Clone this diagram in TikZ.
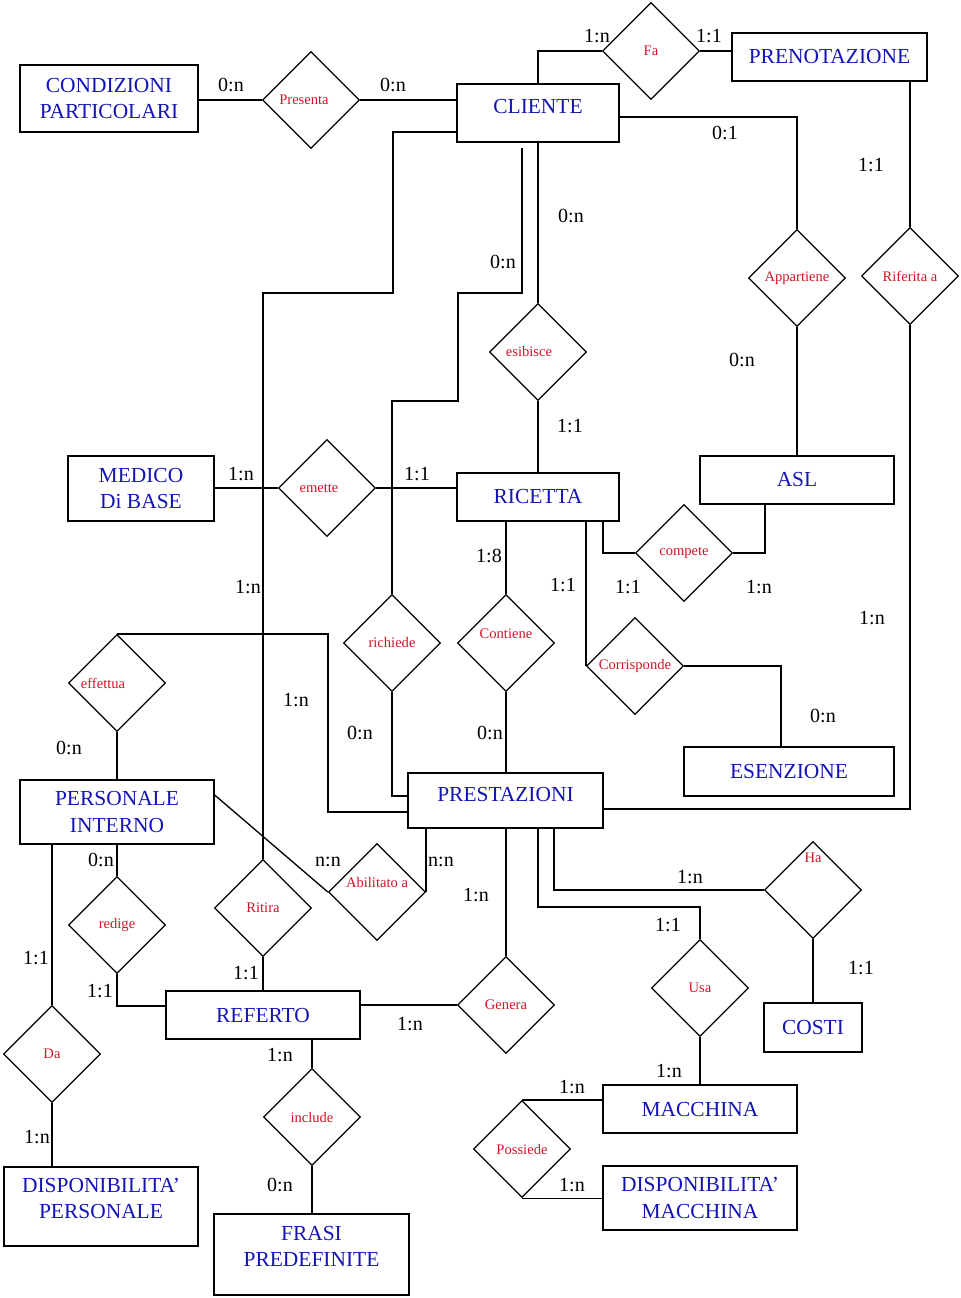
\documentclass[tikz,border=0pt]{standalone}
\usepackage{fontspec}
\setmainfont{Liberation Serif}
\usepackage{xcolor}
\usetikzlibrary{shapes.geometric}

\definecolor{entblue}{RGB}{20,20,180}
\definecolor{relred}{RGB}{210,20,40}

\tikzset{
    entity/.style={draw, rectangle, inner sep=0pt, align=center, text=entblue,
        font=\fontsize{12.2}{15}\selectfont},
    relation/.style={draw, diamond, aspect=1, minimum width=1.94cm, minimum height=1.94cm,
        inner sep=0pt, text=relred, font=\fontsize{8.3}{10}\selectfont},
    card/.style={inner sep=0pt, font=\fontsize{11.4}{13}\selectfont},
}

\begin{document}
\begin{tikzpicture}[x=0.02cm, y=-0.02cm, line width=0.75pt]
    \useasboundingbox (0,0) rectangle (960,1298);

    % Entities
    \node[entity, minimum width=3.56cm, minimum height=1.34cm] (cond) at (109,98.5) {CONDIZIONI\\PARTICOLARI};
    \node[entity, minimum width=3.24cm, minimum height=1.16cm, text depth=0.28cm] (cliente) at (538,113) {CLIENTE};
    \node[entity, minimum width=3.9cm, minimum height=0.96cm] (preno) at (829.5,57) {PRENOTAZIONE};
    \node[entity, minimum width=2.92cm, minimum height=1.3cm] (medico) at (141,488.5) {MEDICO\\Di BASE};
    \node[entity, minimum width=3.24cm, minimum height=0.96cm] (ricetta) at (538,497) {RICETTA};
    \node[entity, minimum width=3.88cm, minimum height=0.96cm] (asl) at (797,480) {ASL};
    \node[entity, minimum width=4.2cm, minimum height=0.98cm] (esenz) at (789,771.5) {ESENZIONE};
    \node[entity, minimum width=3.9cm, minimum height=1.1cm, text depth=0.24cm] (prest) at (505.5,800.5) {PRESTAZIONI};
    \node[entity, minimum width=3.88cm, minimum height=1.28cm] (pers) at (117,812) {PERSONALE\\INTERNO};
    \node[entity, minimum width=3.88cm, minimum height=0.96cm] (referto) at (263,1015) {REFERTO};
    \node[entity, minimum width=1.96cm, minimum height=0.98cm] (costi) at (813,1027.5) {COSTI};
    \node[entity, minimum width=3.88cm, minimum height=0.96cm] (macch) at (700,1109) {MACCHINA};
    \node[entity, minimum width=3.88cm, minimum height=1.28cm] (dispm) at (700,1198) {DISPONIBILITA’\\MACCHINA};
    \node[entity, minimum width=3.88cm, minimum height=1.58cm, text depth=0.32cm] (dispp) at (101,1206.5) {DISPONIBILITA’\\PERSONALE};
    \node[entity, minimum width=3.9cm, minimum height=1.62cm, text depth=0.32cm] (frasi) at (311.5,1254.5) {FRASI\\PREDEFINITE};

    % Relations
    \node[relation] (presenta) at (311,100) {Presenta\kern0.28cm};
    \node[relation] (fa) at (651,51) {Fa};
    \node[relation] (appart) at (797,278) {Appartiene};
    \node[relation] (rifer) at (910,276) {Riferita a};
    \node[relation] (esib) at (538,352) {esibisce\kern0.36cm};
    \node[relation] (emette) at (327,488) {emette\kern0.32cm};
    \node[relation] (compete) at (684,553) {compete};
    \node[relation] (richiede) at (392,643) {richiede};
    \node[relation, text depth=0.36cm] (contiene) at (506,643) {Contiene};
    \node[relation] (corrisp) at (635,666) {Corrisponde};
    \node[relation] (effettua) at (117,683) {effettua\kern0.56cm};
    \node[relation, text depth=0.4cm] (abil) at (377,892) {Abilitato a};
    \node[relation] (ritira) at (263,908) {Ritira};
    \node[relation] (redige) at (117,925) {redige};
    \node[relation, text depth=1.28cm] (ha) at (813,890) {Ha};
    \node[relation] (usa) at (700,988) {Usa};
    \node[relation] (genera) at (506,1005) {Genera};
    \node[relation] (da) at (52,1054) {Da};
    \node[relation] (include) at (312,1117) {include};
    \node[relation] (possiede) at (522,1149) {Possiede};

    % Links around CLIENTE
    \draw (presenta.west -| cond.east) -- (presenta.west);
    \draw (presenta.east) -- (presenta.east -| cliente.west);
    \draw (cliente.north) |- (fa.west);
    \draw (fa.east) -- (fa.east -| preno.west);
    \draw (cliente.east |- 0,117) -| (appart.north);
    \draw (appart.south) -- (asl.north);
    \draw (rifer.north |- preno.south) -- (rifer.north);
    \draw (rifer.south) |- (prest.east |- 0,809);
    \draw (cliente.south) -- (esib.north);
    \draw (esib.south) -- (ricetta.north);
    \draw (cliente.west |- 0,132) -| (393,293) -| (ritira.north);
    \draw ([shift={(-16,5)}]cliente.south) |- (458,293) |- (392,401) -- (richiede.north);
    \draw (richiede.south) |- (prest.west |- 0,796);

    % Links around RICETTA
    \draw (medico.east |- emette.west) -- (emette.west);
    \draw (emette.east) -- (emette.east -| ricetta.west);
    \draw (contiene.north |- ricetta.south) -- (contiene.north);
    \draw (contiene.south) -- (contiene.south |- prest.north);
    \draw (corrisp.west |- ricetta.south) -- (corrisp.west);
    \draw (corrisp.east) -| ([xshift=-0.16cm]esenz.north);
    \draw (ricetta.south -| 603,0) |- (compete.west);
    \draw (compete.east) -| (asl.south -| 765,0);

    % Links around PERSONALE INTERNO
    \draw (effettua.north) -| (328,812) -- (prest.west |- 328,812);
    \draw (effettua.south) -- (pers.north);
    \draw (pers.east |- 0,795) -- (abil.west);
    \draw (abil.east) -- (abil.east |- prest.south);
    \draw (pers.south) -- (redige.north);
    \draw (redige.south) |- (referto.west |- 0,1006);
    \draw (da.north |- pers.south) -- (da.north);
    \draw (da.south) -- (da.south |- dispp.north);

    % Links around REFERTO
    \draw (ritira.south) -- (ritira.south |- referto.north);
    \draw (include.north |- referto.south) -- (include.north);
    \draw (include.south) -- (include.south |- frasi.north);
    \draw (genera.west -| referto.east) -- (genera.west);
    \draw (genera.north) -- (genera.north |- prest.south);

    % Links around PRESTAZIONI and MACCHINA
    \draw (prest.south -| 538,0) |- (usa.north |- 0,907) -- (usa.north);
    \draw (usa.south) -- (macch.north);
    \draw (prest.south -| 554,0) |- (ha.west);
    \draw (ha.south) -- (costi.north);
    \draw (possiede.north) -- (possiede.north -| macch.west);
    \draw (possiede.south) -- (possiede.south -| dispm.west);

    % Cardinalities
    \node[card] (k1) at (231,85) {0:n};
    \node[card] (k2) at (393,85) {0:n};
    \node[card] (k3) at (597,36) {1:n};
    \node[card] (k4) at (709,36) {1:1};
    \node[card] (k5) at (725,133) {0:1};
    \node[card] (k6) at (871,165) {1:1};
    \node[card] (k7) at (571,216) {0:n};
    \node[card] (k8) at (503,262) {0:n};
    \node[card] (k9) at (742,360) {0:n};
    \node[card] (k10) at (570,426) {1:1};
    \node[card] (k11) at (241,474) {1:n};
    \node[card] (k12) at (417,474) {1:1};
    \node[card] (k13) at (489,556) {1:8};
    \node[card] (k14) at (248,587) {1:n};
    \node[card] (k15) at (563,585) {1:1};
    \node[card] (k16) at (628,587) {1:1};
    \node[card] (k17) at (759,587) {1:n};
    \node[card] (k18) at (872,618) {1:n};
    \node[card] (k19) at (296,700) {1:n};
    \node[card] (k20) at (69,748) {0:n};
    \node[card] (k21) at (360,733) {0:n};
    \node[card] (k22) at (490,733) {0:n};
    \node[card] (k23) at (823,716) {0:n};
    \node[card] (k24) at (101,860) {0:n};
    \node[card] (k25) at (328,862) {n:n};
    \node[card] (k26) at (441,862) {n:n};
    \node[card] (k27) at (476,895) {1:n};
    \node[card] (k28) at (690,877) {1:n};
    \node[card] (k29) at (668,925) {1:1};
    \node[card] (k30) at (36,958) {1:1};
    \node[card] (k31) at (246,973) {1:1};
    \node[card] (k32) at (861,968) {1:1};
    \node[card] (k33) at (100,991) {1:1};
    \node[card] (k34) at (410,1024) {1:n};
    \node[card] (k35) at (280,1055) {1:n};
    \node[card] (k36) at (669,1071) {1:n};
    \node[card] (k37) at (572,1087) {1:n};
    \node[card] (k38) at (37,1137) {1:n};
    \node[card] (k39) at (280,1185) {0:n};
    \node[card] (k40) at (572,1185) {1:n};
\end{tikzpicture}
\end{document}
